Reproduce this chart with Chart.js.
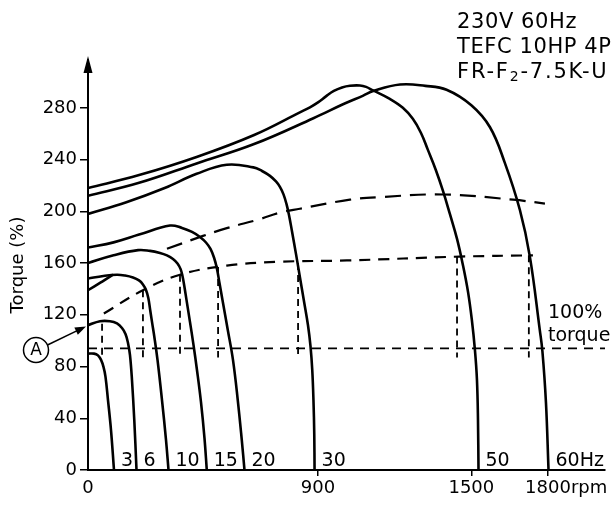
<!DOCTYPE html>
<html><head><meta charset="utf-8">
<script src="https://cdn.jsdelivr.net/npm/chart.js@4.4.0/dist/chart.umd.min.js"></script>
<style>html,body{margin:0;padding:0;background:#fff}canvas{display:block}</style>
</head><body>
<canvas id="c" width="616" height="505"></canvas>
<script>
// ---- data (rpm, torque %) ----
const yTicks = [0, 40, 80, 120, 160, 200, 240, 280];
const xTicks = [0, 900, 1500, 1800];
const xTickLabels = ['0', '900', '1500', '1800'];
const freqLabels = ['3', '6', '10', '15', '20', '30', '50', '60Hz'];

const curve3Hz  = [[0,90],[23.5,90],[39,88.6],[51,85.1],[60.6,79.7],[68.5,72],[78.2,54.1],[90,30.9],[101.7,0]];
const curve6Hz  = [[0,112],[47,115],[86,115],[113.5,113.3],[133,109.8],[146.7,105.2],[156.5,98.2],[164.3,88.9],[172.1,69.6],[181.1,38.7],[189.8,0]];
const curve10Hz = [[0,148],[60,150],[113,151],[145,150.4],[176,148.9],[199.5,146.6],[215,143.5],[227,139.2],[236,133],[243.3,123.7],[250.4,114.5],[260.2,102.1],[272,85.1],[289.5,54.1],[305.2,23.2],[315,0]];
const curve10HzBoost = [[0,139],[50,145],[98,151]];
const curve15Hz = [[0,160],[100,166],[196,170],[242.6,169.4],[281.7,167.8],[309,165.9],[332.6,163.2],[350.2,159.7],[362,155.5],[369.7,150],[376.8,142.3],[385.4,131.5],[399,114.5],[412.8,96.7],[426.4,77.3],[442,52.6],[455.8,24.7],[464.8,0]];
const curve20Hz = [[0,172],[100,176],[200,182],[321,189],[367.8,187.2],[407,184.1],[438.2,180.2],[461.7,175.9],[479.3,170.9],[493,164.3],[504,156.2],[514.5,144.6],[526.2,131.5],[547,108.3],[567.3,85.1],[586,54.1],[601.7,23.2],[612.3,0]];
const curve30Hz = [[0,198],[150,207],[300,218],[425,229],[543,236],[647,234],[681,231.2],[712,227.4],[735.5,223.1],[751,218.9],[765,213.1],[776.6,205.7],[786.4,197.2],[798,184.8],[813.8,167.1],[829.4,148.9],[845,130.7],[860.7,112.1],[870.5,95.9],[877.5,77.3],[882.2,54.1],[885.4,27.1],[886.5,0]];
const curve50Hz = [[0,218],[200,228],[425,242],[650,259],[829,276.5],[868.5,280.4],[900,284.2],[931,288.9],[962,293.1],[994,295.8],[1025,297.1],[1064,297.3],[1088,296.2],[1115,293.5],[1181,286.9],[1232,280],[1271,271.5],[1303,260.6],[1330,247.5],[1361,232],[1389,215.8],[1416,198],[1444,178.7],[1467,158.5],[1487,137.7],[1502,116],[1514,92.8],[1522,69.6],[1526,38.7],[1528,0]];
const curve60Hz = [[0,212],[200,222],[425,237],[650,252],[882,272],[1000,283],[1077,289.5],[1116,293],[1221,298],[1320,297],[1403,294],[1500,282],[1573,265],[1630,238],[1690,201],[1729,165],[1768,108],[1778,92],[1792,52],[1802,0]];

const lowerDashed = [[62,121],[215,139],[360,151],[543,158],[751,161],[1013,162],[1455,165],[1741,166]];
const upperDashed = [[309,171],[450,181],[543,187],[673,194],[751,199],[829,202],[1025,209],[1142,211],[1390,213],[1663,209],[1788,206]];
const ratedTorque = [[0,94],[2023,94]];
const verticalRpm = [55, 215, 360, 509, 822, 1444, 1725];
const verticalTop = [113, 139, 151, 157, 160, 165, 166];
const verticalBottom = 87;

const freqCurves = [curve3Hz, curve6Hz, curve10Hz, curve15Hz, curve20Hz, curve30Hz, curve50Hz, curve60Hz];

const FONT = '"DejaVu Sans", sans-serif';
const toXY = arr => arr.map(p => ({x: p[0], y: p[1]}));

const datasets = [];
freqCurves.forEach(c => datasets.push({data: toXY(c), borderWidth: 2.6, tension: 0.4}));
datasets.push({data: toXY(curve10HzBoost), borderWidth: 2.6, tension: 0.3});
datasets.push({data: toXY(lowerDashed), borderWidth: 2.2, tension: 0.4, borderDash: [11, 8]});
datasets.push({data: toXY(upperDashed), borderWidth: 2.2, tension: 0.4, borderDash: [16, 9]});
datasets.push({data: toXY(ratedTorque), borderWidth: 1.8, tension: 0, borderDash: [9, 7]});
verticalRpm.forEach((r, i) => datasets.push({data: [{x: r, y: verticalTop[i]}, {x: r, y: verticalBottom}], borderWidth: 1.8, tension: 0, borderDash: [7, 5]}));
datasets.forEach(d => { d.borderColor = '#000'; d.pointRadius = 0; d.fill = false; d.borderCapStyle = 'butt'; d.borderJoinStyle = 'round'; });

const X_TICK_PAD = 2, X_TICK_LEN = 6, TICK_SIZE = 18;

const annot = {
  id: 'annot',
  afterDraw(chart) {
    const {ctx, scales: {x, y}} = chart;
    ctx.save();
    ctx.fillStyle = '#000'; ctx.strokeStyle = '#000';
    // y axis arrow head
    const ax = x.getPixelForValue(0);
    ctx.beginPath(); ctx.moveTo(ax, 56); ctx.lineTo(ax - 4.5, 73); ctx.lineTo(ax + 4.5, 73); ctx.closePath(); ctx.fill();
    // frequency labels
    ctx.font = '19px ' + FONT; ctx.textAlign = 'left'; ctx.textBaseline = 'alphabetic';
    freqCurves.forEach((c, i) => {
      const last = c[c.length - 1];
      ctx.fillText(freqLabels[i], x.getPixelForValue(last[0]) + 7, y.getPixelForValue(0) - 4);
    });
    // rpm unit after 1800 (same line as tick labels)
    ctx.font = TICK_SIZE + 'px ' + FONT;
    ctx.textBaseline = 'middle';
    const labelY = x.top + X_TICK_LEN + X_TICK_PAD + TICK_SIZE * 1.2 / 2;
    ctx.fillText('rpm', x.getPixelForValue(1800) + ctx.measureText('1800').width / 2, labelY);
    ctx.textBaseline = 'alphabetic';
    // 100% torque
    ctx.font = '19px ' + FONT;
    ctx.fillText('100%', 548, 318);
    ctx.fillText('torque', 548, 341);
    // title block
    ctx.font = '21px ' + FONT;
    ctx.letterSpacing = '0.6px';
    ctx.fillText('230V 60Hz', 457, 28);
    ctx.fillText('TEFC 10HP 4P', 457, 53);
    ctx.letterSpacing = '1.8px';
    let tx = 457;
    const parts = [['FR-F', 21, 0], ['2', 14, 3], ['-7.5K-U', 21, 0]];
    parts.forEach(([t, s, dy]) => {
      ctx.font = s + 'px ' + FONT;
      ctx.fillText(t, tx, 78 + dy);
      tx += ctx.measureText(t).width;
    });
    ctx.letterSpacing = '0px';
    // marker A
    const tipX = ax - 2, tipY = y.getPixelForValue(111);
    const cx = 36, cy = 350, r = 12.5;
    ctx.lineWidth = 1.5;
    ctx.beginPath(); ctx.arc(cx, cy, r, 0, Math.PI * 2); ctx.stroke();
    ctx.font = '17px ' + FONT; ctx.textAlign = 'center'; ctx.textBaseline = 'middle';
    ctx.fillText('A', cx, cy + 1);
    const sx = cx + r * 0.92, sy = cy - r * 0.4;
    const ang = Math.atan2(tipY - sy, tipX - sx);
    ctx.beginPath(); ctx.moveTo(sx, sy); ctx.lineTo(tipX - 8 * Math.cos(ang), tipY - 8 * Math.sin(ang)); ctx.stroke();
    ctx.beginPath();
    ctx.moveTo(tipX, tipY);
    ctx.lineTo(tipX - 11 * Math.cos(ang) + 4 * Math.sin(ang), tipY - 11 * Math.sin(ang) - 4 * Math.cos(ang));
    ctx.lineTo(tipX - 11 * Math.cos(ang) - 4 * Math.sin(ang), tipY - 11 * Math.sin(ang) + 4 * Math.cos(ang));
    ctx.closePath(); ctx.fill();
    ctx.restore();
  }
};

new Chart(document.getElementById('c'), {
  type: 'line',
  data: {datasets},
  plugins: [annot],
  options: {
    responsive: false,
    animation: false,
    devicePixelRatio: 1,
    layout: {padding: {left: 0, right: 11, top: 60, bottom: 0}},
    plugins: {legend: {display: false}, tooltip: {enabled: false}},
    scales: {
      x: {
        type: 'linear', min: 0, max: 2023,
        afterBuildTicks: s => { s.ticks = xTicks.map(v => ({value: v})); },
        afterFit: s => { s.height = 35; },
        ticks: {color: '#000', font: {family: FONT, size: TICK_SIZE}, padding: X_TICK_PAD, maxRotation: 0, autoSkip: false,
          callback: (v) => { const i = xTicks.indexOf(v); return i >= 0 ? xTickLabels[i] : ''; }},
        grid: {drawOnChartArea: false, drawTicks: true, tickLength: X_TICK_LEN, lineWidth: 1.5,
          color: c => (c.tick && c.tick.value === 0 ? 'rgba(0,0,0,0)' : '#000')},
        border: {display: true, color: '#000', width: 2}
      },
      y: {
        type: 'linear', min: 0, max: 317,
        afterBuildTicks: s => { s.ticks = yTicks.map(v => ({value: v})); },
        afterFit: s => { s.width = 88; },
        ticks: {color: '#000', font: {family: FONT, size: TICK_SIZE}, padding: 3, autoSkip: false},
        grid: {drawOnChartArea: false, drawTicks: true, tickLength: 8, lineWidth: 1.5, color: '#000'},
        border: {display: true, color: '#000', width: 2},
        title: {display: true, text: 'Torque (%)', color: '#000', font: {family: FONT, size: 18}, padding: {top: 8, bottom: 0}}
      }
    }
  }
});
</script>
</body></html>
